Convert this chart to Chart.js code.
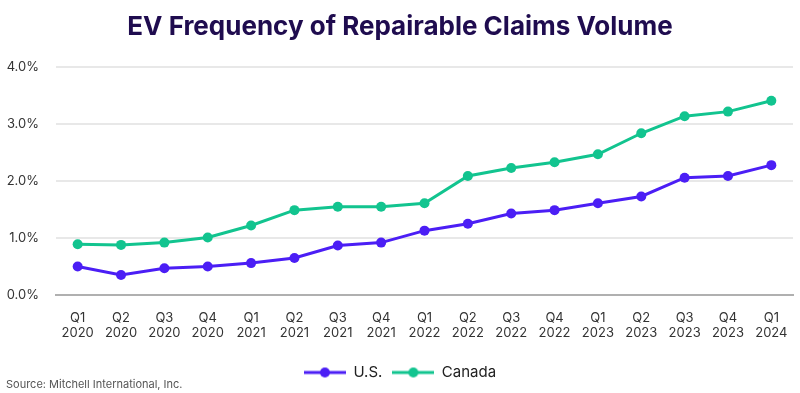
<!DOCTYPE html>
<html>
<head>
<meta charset="utf-8">
<script src="https://cdn.jsdelivr.net/npm/chart.js@4"></script>
<style>
  html, body { margin: 0; padding: 0; background: #fff; }
  #wrap { width: 800px; height: 393px; position: relative; }
</style>
</head>
<body>
<div id="wrap"><canvas id="evChart"></canvas></div>
<script>
// --- data ---
const quarters = ["Q1", "Q2", "Q3", "Q4", "Q1", "Q2", "Q3", "Q4", "Q1", "Q2", "Q3", "Q4", "Q1", "Q2", "Q3", "Q4", "Q1"];
const years = ["2020", "2020", "2020", "2020", "2021", "2021", "2021", "2021", "2022", "2022", "2022", "2022", "2023", "2023", "2023", "2023", "2024"];
const usValues = [0.50, 0.35, 0.47, 0.50, 0.56, 0.65, 0.87, 0.92, 1.13, 1.25, 1.43, 1.49, 1.61, 1.73, 2.06, 2.09, 2.28];
const canadaValues = [0.89, 0.88, 0.92, 1.01, 1.22, 1.49, 1.55, 1.55, 1.61, 2.09, 2.23, 2.33, 2.47, 2.84, 3.14, 3.22, 3.41];
const yTicks = [0, 1, 2, 3, 4];

const US_COLOR = "#4b1ef5";
const CA_COLOR = "#12c48f";
const FONT = "Inter, 'Noto Sans', sans-serif";

// legend marker: short line with a dot in the middle
function legendMarker(color) {
  const c = document.createElement("canvas");
  c.width = 42; c.height = 12;
  const ctx = c.getContext("2d");
  ctx.strokeStyle = color;
  ctx.lineWidth = 3;
  ctx.beginPath();
  ctx.moveTo(0, 6);
  ctx.lineTo(42, 6);
  ctx.stroke();
  ctx.fillStyle = color;
  ctx.beginPath();
  ctx.arc(21, 6, 5, 0, Math.PI * 2);
  ctx.fill();
  return c;
}

const sourceNote = {
  id: "sourceNote",
  afterDraw(chart) {
    const ctx = chart.ctx;
    ctx.save();
    ctx.font = "11px " + FONT;
    ctx.fillStyle = "#555";
    ctx.textBaseline = "middle";
    ctx.fillText("Source: Mitchell International, Inc.", 6, 385);
    ctx.restore();
  }
};

new Chart(document.getElementById("evChart"), {
  type: "line",
  data: {
    labels: quarters.map((q, i) => [q, years[i]]),
    datasets: [
      {
        label: "U.S.",
        data: usValues,
        borderColor: US_COLOR,
        backgroundColor: US_COLOR,
        pointBackgroundColor: US_COLOR,
        pointBorderWidth: 0,
        pointRadius: 5,
        borderWidth: 3,
        pointStyle: "circle",
        fill: false
      },
      {
        label: "Canada",
        data: canadaValues,
        borderColor: CA_COLOR,
        backgroundColor: CA_COLOR,
        pointBackgroundColor: CA_COLOR,
        pointBorderWidth: 0,
        pointRadius: 5,
        borderWidth: 3,
        pointStyle: "circle",
        fill: false
      }
    ]
  },
  options: {
    responsive: true,
    maintainAspectRatio: false,
    animation: false,
    layout: { padding: { left: 7, right: 7, top: 0, bottom: 3 } },
    plugins: {
      title: {
        display: true,
        text: "EV Frequency of Repairable Claims Volume",
        color: "#1f0c4f",
        font: { family: FONT, size: 26, weight: "bold" },
        padding: { top: 12, bottom: 24 }
      },
      legend: {
        position: "bottom",
        labels: {
          usePointStyle: true,
          pointStyleWidth: 42,
          color: "#222",
          font: { family: FONT, size: 15 },
          padding: 10,
          generateLabels(chart) {
            return chart.data.datasets.map((ds, i) => ({
              text: ds.label,
              pointStyle: legendMarker(ds.borderColor),
              fillStyle: ds.borderColor,
              strokeStyle: ds.borderColor,
              fontColor: "#222",
              lineWidth: 0,
              hidden: false,
              datasetIndex: i
            }));
          }
        }
      },
      tooltip: { enabled: false }
    },
    scales: {
      x: {
        offset: true,
        grid: { display: false },
        border: { display: true, color: "#b0b0b0", width: 2 },
        afterFit(axis) {
          axis.height = 60;
          axis.paddingLeft = 0;
          axis.paddingRight = 0;
        },
        ticks: {
          color: "#333",
          font: { family: FONT, size: 13 },
          padding: 7,
          maxRotation: 0,
          autoSkip: false
        }
      },
      y: {
        min: yTicks[0],
        max: yTicks[yTicks.length - 1],
        afterBuildTicks(axis) {
          axis.ticks = yTicks.map(v => ({ value: v }));
        },
        // fit() counts tick padding twice; pin the width instead
        afterFit(axis) { axis.width = 49; },
        grid: { color: "#e8e8e8", lineWidth: 2, drawTicks: false },
        border: { display: false },
        ticks: {
          color: "#333",
          font: { family: FONT, size: 13 },
          padding: 17,
          callback: v => v.toFixed(1) + "%"
        }
      }
    }
  },
  plugins: [sourceNote]
});
</script>
</body>
</html>
